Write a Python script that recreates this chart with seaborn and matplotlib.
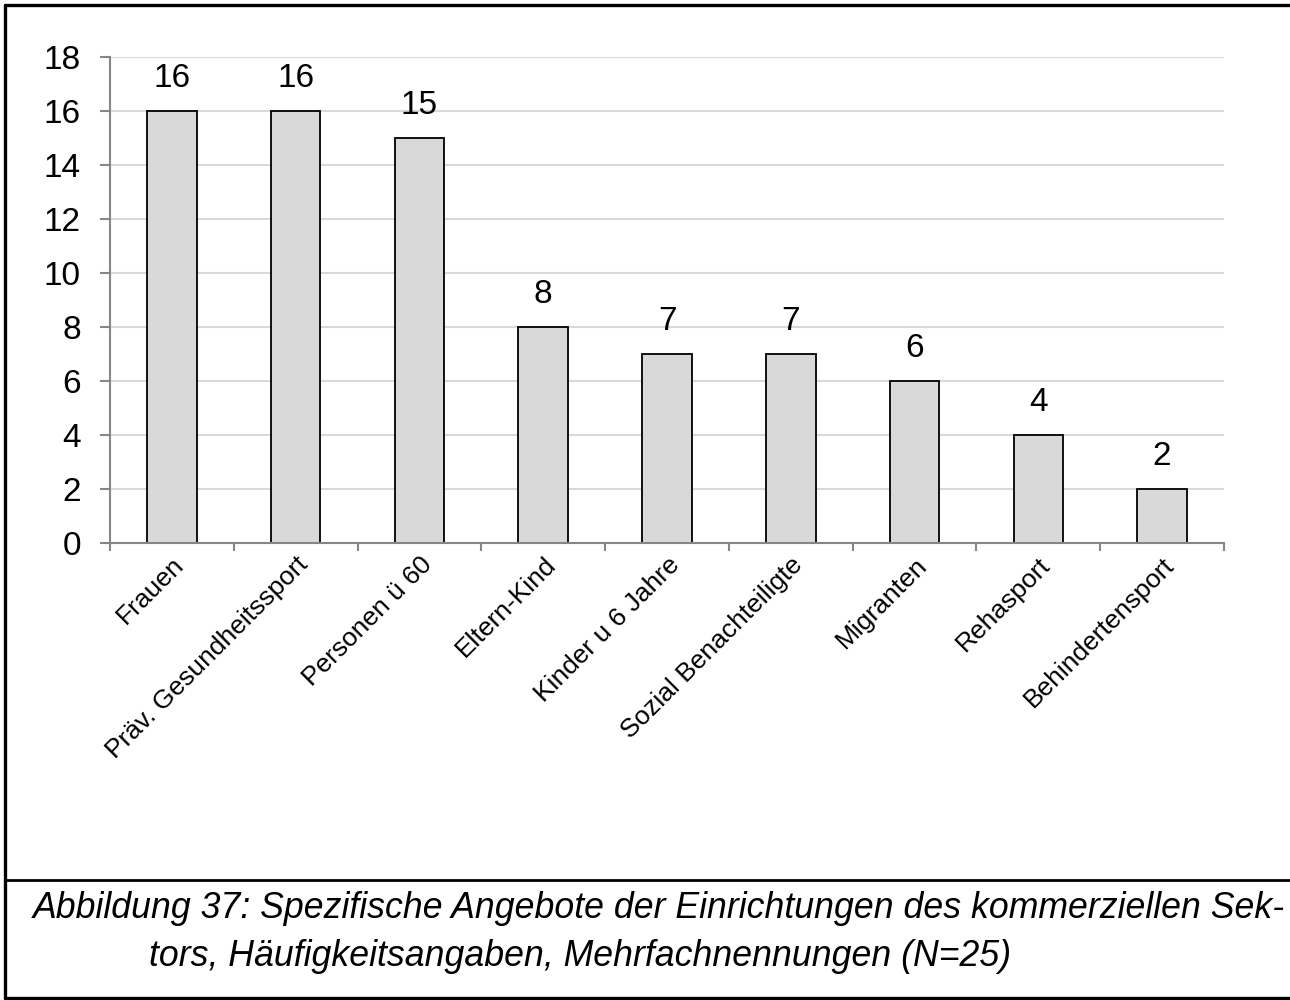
import matplotlib
matplotlib.use("Agg")
import matplotlib.pyplot as plt
import seaborn as sns
import pandas as pd
from matplotlib.lines import Line2D

categories = ["Frauen", "Präv. Gesundheitssport", "Personen ü 60", "Eltern-Kind",
              "Kinder u 6 Jahre", "Sozial Benachteiligte", "Migranten", "Rehasport",
              "Behindertensport"]
counts = [16, 16, 15, 8, 7, 7, 6, 4, 2]
y_ticks = [0, 2, 4, 6, 8, 10, 12, 14, 16, 18]
caption_lines = ["Abbildung 37: Spezifische Angebote der Einrichtungen des kommerziellen Sek-",
                 "tors, Häufigkeitsangaben, Mehrfachnennungen (N=25)"]

sns.set_theme(style="white")
plt.rcParams["font.family"] = ["Liberation Sans", "DejaVu Sans"]
plt.rcParams["text.color"] = "black"
plt.rcParams["xtick.labelcolor"] = "black"
plt.rcParams["ytick.labelcolor"] = "black"

df = pd.DataFrame({"Kategorie": categories, "Anzahl": counts})

W, H = 1290, 1000
fig = plt.figure(figsize=(W / 100, H / 100), dpi=100)
ax = fig.add_axes([110 / W, 1 - 543 / H, (1224 - 110) / W, (543 - 57) / H])

sns.barplot(data=df, x="Kategorie", y="Anzahl", ax=ax, color="#d9d9d9",
            edgecolor="black", linewidth=1.3, width=0.4, saturation=1)

ax.set_xlim(-0.5, len(categories) - 0.5)
ax.set_ylim(0, 18)
ax.set_yticks(y_ticks)
ax.set_yticklabels([str(t) for t in y_ticks], fontsize=24, color="black")
ax.yaxis.grid(True, color="#d9d9d9", linewidth=1.5)
ax.set_axisbelow(True)
ax.set_xlabel("")
ax.set_ylabel("")

for side in ["top", "right"]:
    ax.spines[side].set_visible(False)
for side in ["left", "bottom"]:
    ax.spines[side].set_color("#868686")
    ax.spines[side].set_linewidth(1.5)

ax.tick_params(axis="y", which="major", left=True, length=7, width=1.5,
               color="#868686", pad=14)
ax.set_xticks(range(len(categories)))
ax.set_xticklabels(categories, rotation=45, ha="right", rotation_mode="anchor",
                   fontsize=19, color="black")
ax.tick_params(axis="x", which="major", bottom=False, length=0, pad=7)
ax.set_xticks([i - 0.5 for i in range(len(categories) + 1)], minor=True)
ax.tick_params(axis="x", which="minor", bottom=True, length=5.5, width=1.5,
               color="#868686")

for i, v in enumerate(counts):
    ax.annotate(str(v), (i, v), xytext=(0, 12), textcoords="offset points",
                ha="center", va="bottom", fontsize=24, color="black")

# frame (left, top, bottom) and caption separator
frame_kw = dict(transform=fig.transFigure, color="black", linewidth=2.4)
fig.add_artist(Line2D([5 / W, 5 / W], [2 / H, 1 - 5 / H], **frame_kw))
fig.add_artist(Line2D([5 / W, 1], [1 - 5 / H, 1 - 5 / H], **frame_kw))
fig.add_artist(Line2D([5 / W, 1], [2 / H, 2 / H], **frame_kw))
fig.add_artist(Line2D([5 / W, 1], [1 - 880 / H, 1 - 880 / H],
                      transform=fig.transFigure, color="black", linewidth=2.0))

fig.text(33 / W, 1 - 908 / H, caption_lines[0], fontsize=25.7, fontstyle="italic",
         va="center", ha="left", color="black")
fig.text(149 / W, 1 - 956 / H, caption_lines[1], fontsize=25.7, fontstyle="italic",
         va="center", ha="left", color="black")

fig.savefig("out.png", dpi=100)
